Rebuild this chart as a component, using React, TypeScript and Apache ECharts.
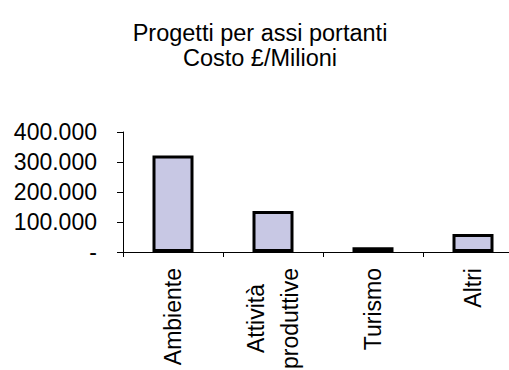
import React, { useEffect, useRef } from "react";
import * as echarts from "echarts";

const titleLines = ["Progetti per assi portanti", "Costo £/Milioni"];
const categories = ["Ambiente", "Attività\nproduttive", "Turismo", "Altri"];
const costs = [322000, 137000, 16000, 60000];
const yTicks = [0, 100000, 200000, 300000, 400000];

function fmt(v: number): string {
  if (v === 0) return "-";
  return String(v).replace(/\B(?=(\d{3})+(?!\d))/g, ".");
}

export default function App() {
  const ref = useRef<HTMLDivElement>(null);
  useEffect(() => {
    if (!ref.current) return;
    const chart = echarts.init(ref.current, undefined, { renderer: "svg" });
    const font = "'Liberation Sans', Arial, sans-serif";
    chart.setOption({
      animation: false,
      backgroundColor: "#ffffff",
      graphic: [
        {
          type: "text",
          x: 260,
          y: 33,
          style: {
            text: titleLines[0],
            font: `23.5px ${font}`,
            fill: "#000",
            textAlign: "center",
            textVerticalAlign: "middle",
          },
        },
        {
          type: "text",
          x: 260,
          y: 58,
          style: {
            text: titleLines[1],
            font: `23.5px ${font}`,
            fill: "#000",
            textAlign: "center",
            textVerticalAlign: "middle",
          },
        },
      ],
      grid: {
        left: 123,
        top: 132,
        width: 400,
        height: 120,
        containLabel: false,
        outerBoundsMode: "none",
      },
      xAxis: {
        type: "category",
        data: categories,
        boundaryGap: true,
        axisLine: { show: true, lineStyle: { color: "#000", width: 1 } },
        axisTick: { show: true, length: 5, lineStyle: { color: "#000" }, alignWithLabel: false },
        axisLabel: {
          rotate: 90,
          margin: 16,
          interval: 0,
          color: "#000",
          fontSize: 23,
          fontFamily: font,
          formatter: (v: string) =>
            v.indexOf("\n") >= 0
              ? v.split("\n").map((s) => `{c|${s}}`).join("\n")
              : v,
          rich: {
            c: { align: "center", fontSize: 23, fontFamily: font, color: "#000", lineHeight: 34 },
          },
        },
        splitLine: { show: false },
      },
      yAxis: {
        type: "value",
        min: yTicks[0],
        max: yTicks[yTicks.length - 1],
        interval: yTicks[1] - yTicks[0],
        axisLine: { show: true, lineStyle: { color: "#000", width: 1 } },
        axisTick: { show: true, length: 6, lineStyle: { color: "#000" } },
        axisLabel: {
          margin: 26,
          color: "#000",
          fontSize: 23,
          fontFamily: font,
          formatter: (v: number) => fmt(v),
        },
        splitLine: { show: false },
      },
      series: [
        {
          type: "bar",
          data: costs,
          barWidth: 41,
          itemStyle: { color: "#c8c8e4", borderColor: "#000", borderWidth: 3 },
        },
      ],
    });
    return () => chart.dispose();
  }, []);
  return (
    <div
      ref={ref}
      style={{ position: "fixed", left: 0, top: 0, width: 509, height: 370 }}
    />
  );
}
